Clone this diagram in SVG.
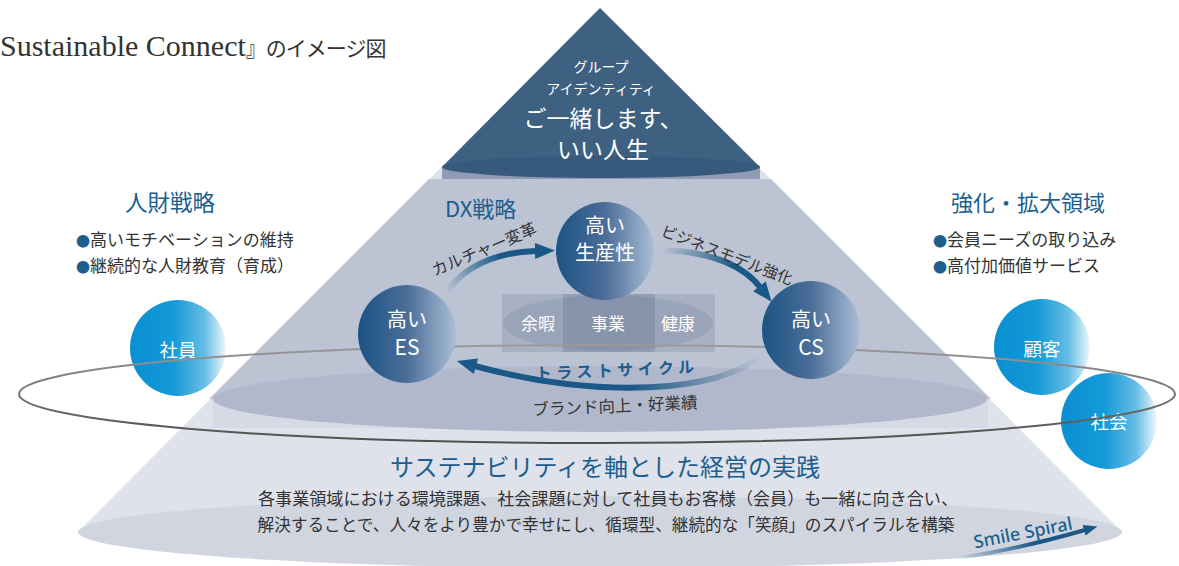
<svg xmlns="http://www.w3.org/2000/svg" width="1179" height="566" viewBox="0 0 1179 566">
<defs>
<style>
text{font-family:'Noto Sans CJK JP','Noto Sans',sans-serif}
.w{fill:#ffffff}
.dk{fill:#333333}
.bl{fill:#1c5f8f}
.c{text-anchor:middle}
.arr{fill:none;stroke-width:6;stroke-linecap:butt}
.bu{fill:#1c5f8f;font-size:14px}
</style>
<linearGradient id="gBlue" x1="0" y1="0" x2="1" y2="0">
<stop offset="0" stop-color="#0a8fd1"/>
<stop offset="0.45" stop-color="#139ad7"/>
<stop offset="0.78" stop-color="#66bde6"/>
<stop offset="1" stop-color="#f0f8fc"/>
</linearGradient>
<linearGradient id="gNavy" x1="0" y1="0" x2="1" y2="0">
<stop offset="0" stop-color="#1c5385"/>
<stop offset="0.5" stop-color="#4a6d98"/>
<stop offset="1" stop-color="#abbfd6"/>
</linearGradient>
<linearGradient id="gRing" gradientUnits="userSpaceOnUse" x1="0" y1="345" x2="0" y2="443">
<stop offset="0" stop-color="#9a9a9a"/>
<stop offset="1" stop-color="#4e4e4e"/>
</linearGradient>
<linearGradient id="gA1" gradientUnits="userSpaceOnUse" x1="447" y1="292" x2="536" y2="251">
<stop offset="0" stop-color="#1a5987" stop-opacity="0"/>
<stop offset="0.65" stop-color="#1a5987" stop-opacity="1"/>
</linearGradient>
<linearGradient id="gA2" gradientUnits="userSpaceOnUse" x1="662" y1="250" x2="760" y2="287">
<stop offset="0" stop-color="#1a5987" stop-opacity="0"/>
<stop offset="0.7" stop-color="#1a5987" stop-opacity="1"/>
</linearGradient>
<linearGradient id="gA3" gradientUnits="userSpaceOnUse" x1="760" y1="0" x2="474" y2="0">
<stop offset="0" stop-color="#1a5987" stop-opacity="0"/>
<stop offset="0.45" stop-color="#1a5987" stop-opacity="1"/>
</linearGradient>
<linearGradient id="gA4" gradientUnits="userSpaceOnUse" x1="958" y1="0" x2="1085" y2="0">
<stop offset="0" stop-color="#1a5987" stop-opacity="0"/>
<stop offset="0.6" stop-color="#1a5987" stop-opacity="1"/>
</linearGradient>
<marker id="head" viewBox="0 0 20 16" refX="1" refY="8" markerWidth="20" markerHeight="16" markerUnits="userSpaceOnUse" orient="auto">
<path d="M0,0 L20,8 L0,16 Z" fill="#1a5987"/>
</marker>
<marker id="headS" viewBox="0 0 14 11" refX="1" refY="5.5" markerWidth="14" markerHeight="11" markerUnits="userSpaceOnUse" orient="auto">
<path d="M0,0 L14,5.5 L0,11 Z" fill="#1a5987"/>
</marker>
</defs>

<rect width="1179" height="566" fill="#ffffff"/>

<text x="0" y="56" fill="#333333" style="font-family:'Liberation Serif','Noto Sans CJK JP',serif"><tspan font-size="30">Sustainable Connect</tspan><tspan font-size="21" letter-spacing="-1">』のイメージ図</tspan></text>

<!-- pyramid -->
<g id="pyramid">
<polygon points="600,8 78,532 1122,532" fill="#dfe2ea"/>
<ellipse cx="600" cy="532" rx="522" ry="36" fill="#d1d5e0"/>
<polygon points="429,179 771,179 991,399 209,399" fill="#bcc3d3"/>
<rect x="213" y="399" width="775" height="29" fill="#d6dae4"/>
<ellipse cx="600" cy="399" rx="387" ry="33" fill="#b2b8cb"/>
<rect x="442" y="167" width="318" height="12" fill="#8f9bb3"/>
<polygon points="600,8 442,167 760,167" fill="#3e6081"/>
<ellipse cx="601" cy="167" rx="159" ry="11" fill="#37597b"/>
</g>

<g id="identity">
<text class="w c" x="601" y="72" font-size="14">グループ</text>
<text class="w c" x="601" y="94" font-size="14">アイデンティティ</text>
<text class="w c" x="603" y="127" font-size="23">ご一緒します、</text>
<text class="w c" x="603" y="158" font-size="23">いい人生</text>
</g>

<g id="hr-strategy">
<text class="bl c" x="170" y="211" font-size="22.5">人財戦略</text>
<text class="dk" x="76" y="246" font-size="17"><tspan class="bu">●</tspan>高いモチベーションの維持</text>
<text class="dk" x="76" y="272" font-size="17"><tspan class="bu">●</tspan>継続的な人財教育（育成）</text>
</g>

<g id="expansion">
<text class="bl c" x="1028" y="211" font-size="22">強化・拡大領域</text>
<text class="dk" x="933" y="246" font-size="17"><tspan class="bu">●</tspan>会員ニーズの取り込み</text>
<text class="dk" x="933" y="272" font-size="17"><tspan class="bu">●</tspan>高付加価値サービス</text>
</g>

<g id="dx-label">
<text class="bl" x="445" y="217" font-size="22">DX戦略</text>
</g>

<g id="center-boxes">
<rect x="502" y="294" width="61" height="58" fill="#5b6b8c" fill-opacity="0.2"/>
<rect x="563" y="294" width="92" height="58" fill="#3f4f72" fill-opacity="0.32"/>
<rect x="655" y="294" width="60" height="58" fill="#5b6b8c" fill-opacity="0.2"/>
<ellipse cx="608" cy="323" rx="105" ry="28" fill="#5b6b8c" fill-opacity="0.18"/>
<text class="w c" x="538" y="330" font-size="17">余暇</text>
<text class="w c" x="608" y="330" font-size="17">事業</text>
<text class="w c" x="678" y="330" font-size="17">健康</text>
</g>

<g id="employee"><circle cx="178" cy="348" r="48" fill="url(#gBlue)"/><text class="w c" x="178" y="357" font-size="18.5">社員</text></g>
<g id="customer"><circle cx="1042" cy="347" r="48" fill="url(#gBlue)"/><text class="w c" x="1042" y="356" font-size="18.5">顧客</text></g>
<g id="society"><circle cx="1109" cy="421" r="48" fill="url(#gBlue)"/><text class="w c" x="1109" y="429" font-size="18.5">社会</text></g>

<g id="ring">
<ellipse cx="597" cy="394" rx="578" ry="49" fill="none" stroke="url(#gRing)" stroke-width="2"/>
</g>

<g id="connectors">
<path class="arr" d="M447,292 C462,268 495,252 536,251" stroke="url(#gA1)" marker-end="url(#head)"/>
<path class="arr" d="M662,250 C715,252 745,268 760,287" stroke="url(#gA2)" marker-end="url(#head)"/>
<path class="arr" d="M760,356 C720,392 600,400 475,366" stroke="url(#gA3)" marker-end="url(#head)"/>
<path d="M958,558 C1000,552 1050,540 1085,530" fill="none" stroke="url(#gA4)" stroke-width="4" marker-end="url(#headS)"/>
<text class="dk c" font-size="16" transform="translate(484,249) rotate(-23)" y="6">カルチャー変革</text>
<text class="dk c" font-size="15.5" transform="translate(727,255) rotate(21)" y="5.5">ビジネスモデル強化</text>
<text class="bl c" font-size="16" font-weight="bold" letter-spacing="4.5" transform="translate(617,370) rotate(-2.5)" y="6">トラストサイクル</text>
<text class="dk c" font-size="16.5" transform="translate(615,406) rotate(-2.5)" y="6">ブランド向上・好業績</text>
<text class="bl c" font-size="18" font-weight="500" transform="translate(1023,533) rotate(-11)" y="6" style="font-family:'Noto Sans','Open Sans',sans-serif">Smile Spiral</text>
</g>

<g id="high-es"><circle cx="407" cy="334" r="49" fill="url(#gNavy)"/><text class="w c" x="407" y="327" font-size="20">高い</text><text class="w c" x="407" y="355" font-size="21">ES</text></g>
<g id="high-productivity"><circle cx="605" cy="251" r="49" fill="url(#gNavy)"/><text class="w c" x="605" y="233" font-size="20">高い</text><text class="w c" x="605" y="260" font-size="20">生産性</text></g>
<g id="high-cs"><circle cx="811" cy="330" r="49" fill="url(#gNavy)"/><text class="w c" x="811" y="327" font-size="20">高い</text><text class="w c" x="811" y="355" font-size="21">CS</text></g>

<g id="practice">
<text class="bl c" x="605" y="476" font-size="24">サステナビリティを軸とした経営の実践</text>
<text class="dk c" x="608" y="505" font-size="17" textLength="700" lengthAdjust="spacingAndGlyphs">各事業領域における環境課題、社会課題に対して社員もお客様（会員）も一緒に向き合い、</text>
<text class="dk c" x="606" y="531" font-size="17" textLength="697" lengthAdjust="spacingAndGlyphs">解決することで、人々をより豊かで幸せにし、循環型、継続的な「笑顔」のスパイラルを構築</text>
</g>
</svg>
